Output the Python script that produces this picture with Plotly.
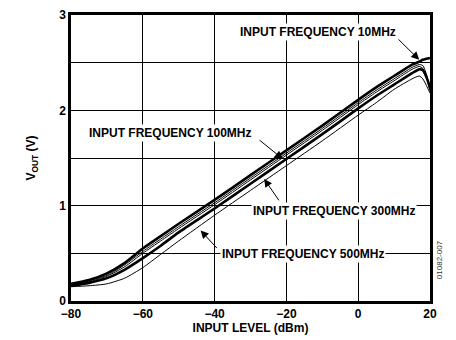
import plotly.graph_objects as go

# Input level sweep (dBm)
input_level = [-80, -75, -70, -65, -60, -55, -50, -40, -30, -20, -10, 0, 5, 10, 15, 17, 18, 19, 20]

# Output voltage (V) at each input frequency
vout_10mhz = [0.18, 0.22, 0.29, 0.40, 0.55, 0.68, 0.81, 1.06, 1.32, 1.58, 1.84, 2.11, 2.24, 2.36, 2.48, 2.51, 2.53, 2.54, 2.55]
vout_50mhz = [0.17, 0.21, 0.27, 0.38, 0.52, 0.65, 0.78, 1.03, 1.29, 1.55, 1.81, 2.08, 2.21, 2.33, 2.45, 2.48, 2.47, 2.38, 2.22]
vout_100mhz = [0.17, 0.20, 0.26, 0.36, 0.50, 0.63, 0.76, 1.01, 1.27, 1.53, 1.79, 2.06, 2.19, 2.31, 2.43, 2.46, 2.44, 2.35, 2.20]
vout_300mhz = [0.16, 0.19, 0.24, 0.33, 0.45, 0.58, 0.72, 0.97, 1.23, 1.49, 1.75, 2.02, 2.15, 2.27, 2.39, 2.43, 2.42, 2.35, 2.24]
vout_500mhz = [0.15, 0.16, 0.18, 0.24, 0.35, 0.49, 0.63, 0.90, 1.16, 1.42, 1.68, 1.95, 2.08, 2.22, 2.33, 2.36, 2.33, 2.26, 2.18]

x_ticks = [-80, -60, -40, -20, 0, 20]
y_ticks = [0, 0.5, 1, 1.5, 2, 2.5, 3]
y_tick_text = ["0", "", "1", "", "2", "", "3"]

series = [
    ("10MHz", vout_10mhz, 2.6),
    ("50MHz", vout_50mhz, 1.0),
    ("100MHz", vout_100mhz, 1.0),
    ("300MHz", vout_300mhz, 2.6),
    ("500MHz", vout_500mhz, 1.0),
]

FONT = "Liberation Sans, Arial, sans-serif"

fig = go.Figure()
for name, vals, width in series:
    fig.add_trace(go.Scatter(
        x=input_level, y=vals, mode="lines", name=name,
        line=dict(color="black", width=width, shape="spline", smoothing=0.6),
        showlegend=False,
    ))

# Curve labels (white boxes hide the grid behind them)
labels = [
    ("INPUT FREQUENCY 10MHz", -11.2, 2.82),
    ("INPUT FREQUENCY 100MHz", -52.4, 1.76),
    ("INPUT FREQUENCY 300MHz", -6.7, 0.945),
    ("INPUT FREQUENCY 500MHz", -15.4, 0.49),
]
for text, lx, ly in labels:
    fig.add_annotation(x=lx, y=ly, text="<b>" + text + "</b>", showarrow=False,
                       bgcolor="white", borderpad=1,
                       font=dict(family=FONT, size=12, color="black"))

# Pointer arrows: (head x, head y, tail x, tail y)
arrows = [
    (17.0, 2.53, 10.8, 2.76),
    (-21.0, 1.49, -27.9, 1.70),
    (-26.2, 1.28, -21.8, 1.04),
    (-43.9, 0.74, -39.0, 0.54),
]
for hx, hy, tx, ty in arrows:
    fig.add_annotation(x=hx, y=hy, ax=tx, ay=ty, axref="x", ayref="y",
                       text="", showarrow=True, arrowhead=2, arrowsize=1.6,
                       arrowwidth=1, arrowcolor="black")

fig.add_annotation(xref="paper", yref="paper", x=1.045, y=0.07, text="01082-007",
                   textangle=-90, showarrow=False,
                   font=dict(family=FONT, size=8, color="#333333"))

fig.update_layout(
    width=456, height=340,
    margin=dict(l=71, r=26, t=15, b=39, autoexpand=False),
    paper_bgcolor="white", plot_bgcolor="white",
    font=dict(family=FONT, size=11, color="black"),
    xaxis=dict(
        range=[-80, 20], tickvals=x_ticks, showgrid=True, gridcolor="black", gridwidth=1,
        zeroline=False, showline=True, linecolor="black", linewidth=2.5, mirror=True,
        ticks="", automargin=False,
        tickfont=dict(family=FONT, size=12, color="black", weight="bold"),
        title=dict(text="<b>INPUT LEVEL (dBm)</b>", standoff=4,
                   font=dict(family=FONT, size=12)),
    ),
    yaxis=dict(
        range=[0, 3], tickvals=y_ticks, ticktext=y_tick_text, showgrid=True,
        gridcolor="black", gridwidth=1, zeroline=False, showline=True,
        linecolor="black", linewidth=2.5, mirror=True, ticks="", automargin=False,
        tickfont=dict(family=FONT, size=12, color="black", weight="bold"),
        title=dict(text="<b>V<sub>OUT</sub> (V)</b>", standoff=21,
                   font=dict(family=FONT, size=12)),
    ),
)

fig.write_html("out.html")
